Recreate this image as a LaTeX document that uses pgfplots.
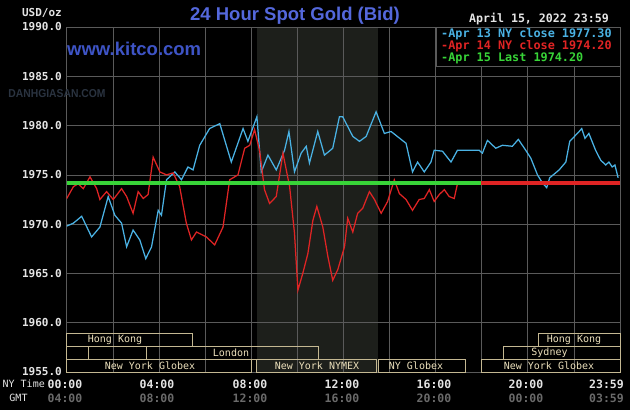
\documentclass[border=0pt]{standalone}
\usepackage{pgfplots}
\pgfplotsset{compat=1.18}
\usepackage{fontspec}
\setmainfont{DejaVu Sans Mono}
\newfontfamily\sansfont{Liberation Sans}
\definecolor{bgshade}{HTML}{1D1F1B}
\definecolor{gridc}{HTML}{5A5A5A}
\definecolor{blueline}{HTML}{4AB2E4}
\definecolor{redline}{HTML}{E02424}
\definecolor{greenline}{HTML}{38D438}
\definecolor{tanc}{HTML}{C4B892}
\definecolor{tantext}{HTML}{ECE0BC}
\definecolor{titleblue}{HTML}{5468DC}
\definecolor{kitcoblue}{HTML}{3E54C6}
\definecolor{labelc}{HTML}{E4E4E4}
\definecolor{gmtc}{HTML}{6A6A6A}
\definecolor{wmark}{HTML}{2A3340}
\begin{document}
\begin{tikzpicture}
\fill[black] (0pt,0pt) rectangle (630pt,410pt);
\fill[bgshade] (257pt,38pt) rectangle (377.7pt,383pt);
\begin{axis}[at={(66.7pt,38pt)}, anchor=south west, scale only axis,
  width=553.3pt, height=345pt, xmin=0, xmax=24, ymin=1955, ymax=1990,
  axis line style={gridc, line width=0.6pt}, grid=major,
  major grid style={gridc, line width=0.6pt},
  xtick={0,2,...,24}, ytick={1955,1960,...,1990},
  xticklabels={}, yticklabels={}, major tick length=0pt, clip=true]
\addplot[blueline, line width=1.25pt] coordinates {
(0.00,1969.8) (0.29,1970.1) (0.65,1970.8) (1.08,1968.7) (1.44,1969.7) (1.80,1972.8)
(2.09,1970.9) (2.38,1970.1) (2.60,1967.7) (2.88,1969.4) (3.17,1968.4) (3.43,1966.5)
(3.68,1967.7) (3.97,1971.4) (4.11,1970.9) (4.33,1974.5) (4.69,1975.3) (4.98,1974.5)
(5.26,1975.8) (5.48,1975.5) (5.77,1978.0) (6.20,1979.7) (6.64,1980.2) (7.14,1976.3)
(7.65,1979.7) (7.86,1978.4) (8.25,1980.9) (8.44,1975.3) (8.73,1977.0) (9.09,1975.5)
(9.45,1977.5) (9.64,1979.4) (9.88,1975.3) (10.17,1977.2) (10.39,1977.9) (10.53,1976.2)
(10.89,1979.4) (11.18,1977.0) (11.54,1977.7) (11.83,1980.9) (11.97,1980.9) (12.41,1978.9)
(12.70,1978.4) (12.99,1978.9) (13.42,1981.4) (13.78,1979.2) (14.07,1979.4) (14.72,1978.2)
(15.00,1975.3) (15.22,1976.3) (15.51,1975.3) (15.80,1976.3) (15.94,1977.5) (16.30,1977.4)
(16.67,1976.3) (16.95,1977.5) (17.89,1977.5) (18.03,1977.2) (18.25,1978.5) (18.61,1977.7)
(18.90,1978.0) (19.33,1977.9) (19.59,1978.6) (19.91,1977.5) (20.13,1976.7) (20.42,1975.0)
(20.63,1974.2) (20.82,1973.7) (20.95,1974.7) (21.36,1975.5) (21.65,1976.3) (21.82,1978.4)
(22.23,1979.4) (22.34,1979.7) (22.48,1978.7) (22.65,1979.2) (22.94,1977.5) (23.16,1976.5)
(23.38,1976.0) (23.52,1976.3) (23.66,1975.8) (23.78,1976.0) (23.92,1974.7)};
\addplot[redline, line width=1.25pt] coordinates {
(0.00,1972.6) (0.29,1973.8) (0.50,1974.1) (0.72,1973.6) (1.01,1974.8) (1.30,1973.6)
(1.44,1972.5) (1.73,1973.3) (2.02,1972.5) (2.38,1973.6) (2.60,1972.8) (2.88,1971.1)
(3.10,1973.3) (3.32,1972.6) (3.53,1973.0) (3.75,1976.8) (4.04,1975.3) (4.33,1975.0)
(4.62,1975.2) (4.90,1973.8) (5.19,1970.1) (5.41,1968.4) (5.63,1969.2) (6.06,1968.7)
(6.42,1967.9) (6.78,1969.7) (7.07,1974.5) (7.43,1975.0) (7.72,1977.7) (7.94,1978.0)
(8.15,1979.6) (8.37,1977.4) (8.58,1973.5) (8.80,1972.1) (9.09,1972.8) (9.38,1977.2)
(9.67,1973.8) (9.88,1969.1) (10.03,1963.3) (10.24,1965.0) (10.46,1967.0) (10.68,1970.4)
(10.85,1971.8) (11.11,1969.7) (11.33,1966.7) (11.54,1964.3) (11.76,1965.4) (12.05,1967.7)
(12.19,1970.6) (12.41,1969.2) (12.62,1971.1) (12.84,1971.6) (13.13,1973.3) (13.35,1972.5)
(13.64,1971.1) (13.92,1972.3) (14.21,1974.5) (14.43,1973.1) (14.72,1972.5) (15.00,1971.4)
(15.29,1972.5) (15.51,1972.6) (15.73,1973.5) (15.94,1972.3) (16.16,1973.0) (16.38,1973.5)
(16.59,1972.8) (16.81,1972.6) (16.95,1974.1)};
\addplot[greenline, line width=3.8pt] coordinates {(0,1974.2) (17.97,1974.2)};
\addplot[redline, line width=3.8pt] coordinates {(17.97,1974.2) (23.98,1974.2)};
\end{axis}
\begin{scope}[x=1pt,y=-1pt,shift={(0pt,410pt)}]
% legend box
\fill[black] (436,27) rectangle (620,66);
\draw[gridc, line width=0.6pt] (436,27) rectangle (620,66);
\node[anchor=west, text=blueline, font=\fontsize{11.8}{12}\selectfont\bfseries, inner sep=0pt] at (441,34) {-Apr 13 NY close 1977.30};
\node[anchor=west, text=redline, font=\fontsize{11.8}{12}\selectfont\bfseries, inner sep=0pt] at (441,46) {-Apr 14 NY close 1974.20};
\node[anchor=west, text=greenline, font=\fontsize{11.8}{12}\selectfont\bfseries, inner sep=0pt] at (441,58.5) {-Apr 15 Last 1974.20};
% titles
\node[text=titleblue, font=\sansfont\fontsize{18.5}{20}\selectfont\bfseries, inner sep=0pt] at (295,15.5) {24 Hour Spot Gold (Bid)};
\node[anchor=west, text=kitcoblue, font=\sansfont\fontsize{18.5}{20}\selectfont\bfseries, inner sep=0pt] at (67,49) {www.kitco.com};
\node[text=wmark, font=\sansfont\fontsize{11.5}{12}\selectfont\bfseries, inner sep=0pt, xscale=0.9] at (57,94) {DANHGIASAN.COM};
\node[anchor=east, text=labelc, font=\fontsize{11.6}{12}\selectfont\bfseries, inner sep=0pt] at (609,19) {April 15, 2022 23:59};
% y labels
\foreach \v/\yy in {1990.0/27,1985.0/76.3,1980.0/125.6,1975.0/174.9,1970.0/224.2,1965.0/273.5,1960.0/322.8,1955.0/372}
  \node[anchor=east, text=labelc, font=\fontsize{11}{12}\selectfont\bfseries, inner sep=0pt] at (62,\yy) {\v};
\node[anchor=east, text=labelc, font=\fontsize{11}{12}\selectfont\bfseries, inner sep=0pt] at (62,13) {USD/oz};
% x labels
\node[anchor=east, text=labelc, font=\fontsize{10}{12}\selectfont, inner sep=0pt] at (45,384) {NY Time};
\node[text=labelc, font=\fontsize{10}{12}\selectfont, inner sep=0pt] at (18.5,398) {GMT};
\foreach \xx/\a/\b in {65/00:00/04:00,157/04:00/08:00,250/08:00/12:00,342/12:00/16:00,434/16:00/20:00,526/20:00/00:00,606.5/23:59/03:59}{
  \node[text=labelc, font=\fontsize{11.5}{12}\selectfont\bfseries, inner sep=0pt] at (\xx,384) {\a};
  \node[text=gmtc, font=\fontsize{11.5}{12}\selectfont\bfseries, inner sep=0pt] at (\xx,398) {\b};
}
% session boxes
\begin{scope}[tanc, line width=0.9pt]
\draw (66.7,333.3) rectangle (192.3,346);
\draw (538.3,333.3) rectangle (620,346);
\draw (66.7,346) rectangle (88.3,359);
\draw (146.7,346) rectangle (318.3,359);
\draw (503.3,346) rectangle (620,359);
\draw (66.7,359) rectangle (251.7,372);
\draw (256.7,359) rectangle (376.7,372);
\draw (378,359) rectangle (465.7,372);
\draw (481.7,359) rectangle (620,372);
\end{scope}
\begin{scope}[every node/.style={text=tantext, font=\fontsize{10}{12}\selectfont, inner sep=0pt}]
\node at (115,339.7) {Hong Kong};
\node at (574,339.7) {Hong Kong};
\node at (231,352.5) {London};
\node at (549.5,352.5) {Sydney};
\node at (150,365.5) {New York Globex};
\node at (317,365.5) {New York NYMEX};
\node at (416,365.5) {NY Globex};
\node at (549,365.5) {New York Globex};
\end{scope}
\end{scope}
\end{tikzpicture}
\end{document}
